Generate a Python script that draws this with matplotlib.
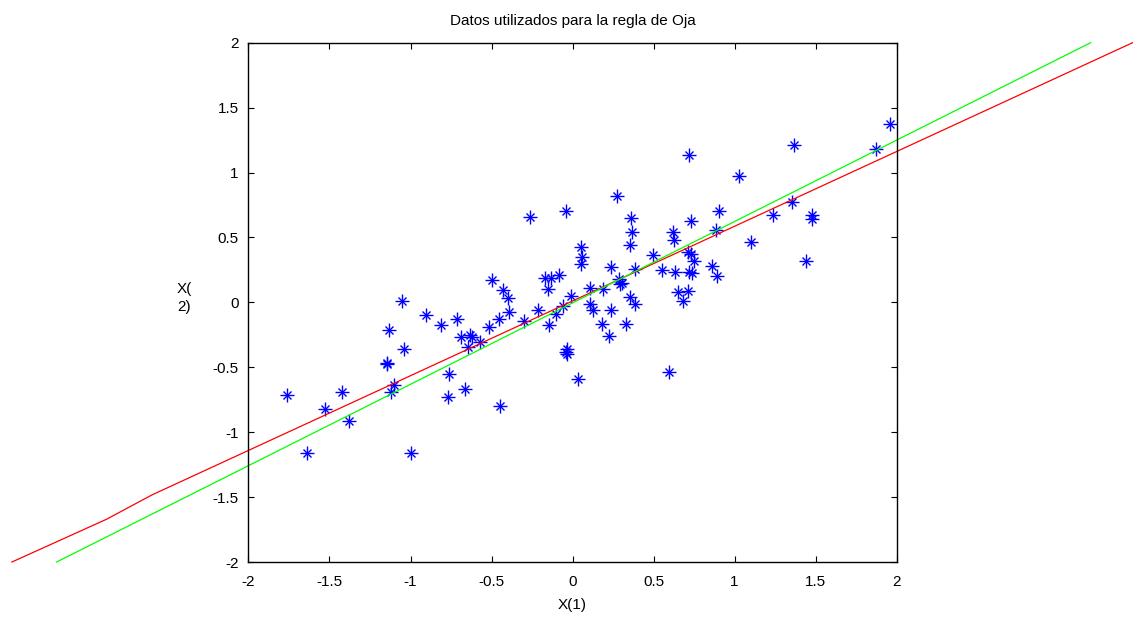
import matplotlib
matplotlib.use("Agg")
import matplotlib.pyplot as plt
import numpy as np

plt.rcParams['font.family'] = ['Liberation Sans', 'DejaVu Sans']

# Data points (X(1), X(2))
x1 = [-1.76, -1.64, -1.53, -1.42, -1.38, -1.135, -1.147, -1.147, -1.10, -1.12,
      -1.04, -1.055, -1.00, -0.905, -0.81, -0.715, -0.763, -0.771, -0.664, -0.69,
      -0.633, -0.62, -0.643, -0.571, -0.514, -0.454, -0.39, -0.40, -0.431, -0.495,
      -0.298, -0.215, -0.144, -0.102, -0.057, -0.265, -0.041, -0.17, -0.135, -0.084,
      -0.154, -0.012, -0.035, -0.041, -0.037, 0.033, -0.448,
      0.107, 0.124, 0.235, 0.181, 0.33, 0.227, 0.356, 0.385, 0.652,
      0.71, 0.683, 0.597, 0.107, 0.19, 0.284, 0.307, 0.292, 0.235, 0.387,
      0.494, 0.55, 0.632, 0.052, 0.06, 0.052, 0.276, 0.358, 0.365, 0.354,
      0.618, 0.625, 0.716, 0.714, 0.729, 0.751, 0.72, 0.735, 0.729, 0.862,
      0.889, 0.883, 0.904, 1.029, 1.103, 1.235, 1.356, 1.366, 1.438, 1.475,
      1.479, 1.87, 1.959]
x2 = [-0.71, -1.16, -0.82, -0.69, -0.91, -0.21, -0.465, -0.477, -0.64, -0.69,
      -0.36, 0.013, -1.16, -0.095, -0.175, -0.13, -0.552, -0.727, -0.668, -0.27,
      -0.252, -0.27, -0.342, -0.303, -0.187, -0.131, -0.072, 0.036, 0.095, 0.17,
      -0.141, -0.059, -0.177, -0.09, -0.028, 0.655, 0.706, 0.19, 0.19, 0.208,
      0.103, 0.05, -0.36, -0.38, -0.40, -0.59, -0.80,
      -0.01, -0.06, -0.059, -0.167, -0.167, -0.258, 0.039, -0.01, 0.082,
      0.09, 0.013, -0.539, 0.108, 0.105, 0.178, 0.147, 0.141, 0.275, 0.257,
      0.363, 0.248, 0.232, 0.424, 0.352, 0.294, 0.82, 0.646, 0.541, 0.445,
      0.543, 0.483, 1.135, 0.39, 0.372, 0.318, 0.236, 0.229, 0.624, 0.283,
      0.2, 0.555, 0.705, 0.973, 0.468, 0.67, 0.776, 1.21, 0.317, 0.673,
      0.645, 1.181, 1.374]

# Direction lines (Oja rule result, red; principal direction, green)
red_x = [-3.46, -2.875, -2.597, 3.456]
red_y = [-2.0, -1.67, -1.484, 2.0]
green_x = [-3.184, 3.197]
green_y = [-2.0, 2.0]

xticks = [-2, -1.5, -1, -0.5, 0, 0.5, 1, 1.5, 2]
yticks = [-2, -1.5, -1, -0.5, 0, 0.5, 1, 1.5, 2]

fig = plt.figure(figsize=(11.33, 6.17), dpi=100)
ax = fig.add_axes([0.2193, 0.0891, 0.5721, 0.8417])

ax.plot(x1, x2, linestyle='none', marker='+', markersize=9.5, mew=1.0, color='#0000ff')
ax.plot(x1, x2, linestyle='none', marker='x', markersize=5.5, mew=1.0, color='#0000ff')
ax.plot(red_x, red_y, color='#ff0000', lw=0.9, clip_on=False)
ax.plot(green_x, green_y, color='#00ff00', lw=0.9, clip_on=False)

ax.set_xlim(-2, 2)
ax.set_ylim(-2, 2)
ax.set_xticks(xticks)
ax.set_yticks(yticks)
ax.set_xticklabels([f"{t:g}" for t in xticks])
ax.set_yticklabels([f"{t:g}" for t in yticks])
ax.tick_params(direction='in', length=4.5, width=0.8, labelsize=11,
               top=True, right=True)
ax.tick_params(axis='x', pad=9)
ax.tick_params(axis='y', pad=7)
for s in ax.spines.values():
    s.set_linewidth(1.0)

ax.set_title("Datos utilizados para la regla de Oja", fontsize=11, pad=13)
ax.set_xlabel("X(1)", fontsize=11, labelpad=7)
fig.text(184 / 1133, 1 - 298 / 617, "X(\n2)", fontsize=11, ha='center', va='center',
         linespacing=1.3)

fig.savefig("out.png", dpi=100)
